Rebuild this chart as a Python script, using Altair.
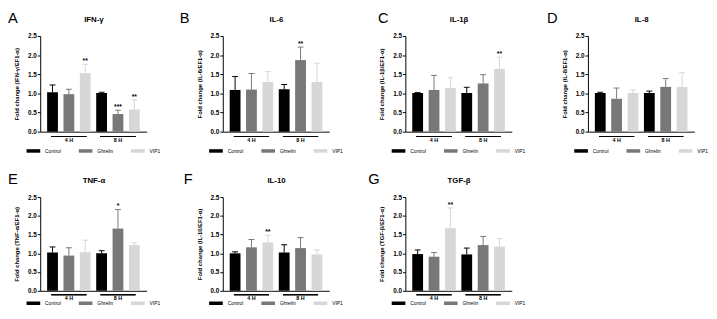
import altair as alt
import pandas as pd

FONT = "Liberation Sans, Arial, sans-serif"

names = ["IFN-γ", "IL-6", "IL-1β", "IL-8", "TNF-α", "IL-10", "TGF-β"]
letters = ["A", "B", "C", "D", "E", "F", "G"]
times = ["4 H", "4 H", "4 H", "8 H", "8 H", "8 H"]
treatments = ["Control", "Ghrelin", "VIP1"]
treatment_col = treatments * 2
colors = ["#000000", "#787878", "#d7d7d7"]

ifn_mean = [1.03, 0.98, 1.53, 1.01, 0.46, 0.58]
ifn_upper = [1.22, 1.11, 1.76, 1.03, 0.56, 0.83]
ifn_sig = ["", "", "**", "", "***", "**"]

il6_mean = [1.09, 1.10, 1.30, 1.11, 1.87, 1.30]
il6_upper = [1.44, 1.52, 1.57, 1.23, 2.21, 1.79]
il6_sig = ["", "", "", "", "**", ""]

il1b_mean = [1.01, 1.09, 1.14, 1.01, 1.26, 1.64]
il1b_upper = [1.02, 1.47, 1.41, 1.16, 1.49, 1.95]
il1b_sig = ["", "", "", "", "", "**"]

il8_mean = [1.01, 0.86, 1.01, 1.01, 1.17, 1.17]
il8_upper = [1.03, 1.14, 1.09, 1.06, 1.39, 1.54]
il8_sig = ["", "", "", "", "", ""]

tnf_mean = [1.02, 0.94, 1.03, 1.00, 1.66, 1.22]
tnf_upper = [1.17, 1.15, 1.35, 1.07, 2.17, 1.28]
tnf_sig = ["", "", "", "", "*", ""]

il10_mean = [1.00, 1.16, 1.29, 1.02, 1.14, 0.97]
il10_upper = [1.04, 1.37, 1.48, 1.23, 1.42, 1.09]
il10_sig = ["", "", "**", "", "", ""]

tgf_mean = [0.98, 0.91, 1.67, 0.97, 1.22, 1.18]
tgf_upper = [1.09, 1.02, 2.21, 1.14, 1.45, 1.39]
tgf_sig = ["", "", "**", "", "", ""]

means = [ifn_mean, il6_mean, il1b_mean, il8_mean, tnf_mean, il10_mean, tgf_mean]
uppers = [ifn_upper, il6_upper, il1b_upper, il8_upper, tnf_upper, il10_upper, tgf_upper]
sigs = [ifn_sig, il6_sig, il1b_sig, il8_sig, tnf_sig, il10_sig, tgf_sig]

letter_dx = [-33, -44, -28, -42, -33, -40, -38]
y_ticks = [0, 0.5, 1.0, 1.5, 2.0, 2.5]

W = 109
# per-row layout: (plot height, underline offset, x-label padding, legend offset)
ROW_TOP = (98, 5, 6, 17)
ROW_BOTTOM = (96, 4, 5, 10)


def y_axis(i):
    return alt.Axis(
        values=y_ticks, format=".1f",
        title=f"Fold change ({names[i]}/EF1-α)",
        titleFontSize=6, titleFontWeight="bold", titlePadding=8,
        titleFont=FONT, titleColor="black",
        labelFontSize=6.5, labelFontWeight="bold", labelPadding=1,
        labelFont=FONT, labelColor="black",
        tickSize=3, tickColor="black", domainColor="black",
        domainWidth=1, grid=False)


def panel(i):
    H, u_off, lab_pad, leg_off = ROW_TOP if i < 4 else ROW_BOTTOM
    df = pd.DataFrame({
        "time": times,
        "treatment": treatment_col,
        "mean": means[i],
        "upper": uppers[i],
        "sig": sigs[i],
    })
    xscale = alt.Scale(paddingInner=0, paddingOuter=0.084)
    xoff = alt.XOffset("treatment:N", sort=treatments,
                       scale=alt.Scale(paddingInner=0.34, paddingOuter=0.17))
    yscale = alt.Scale(domain=[0, 2.5], nice=False, zero=True)
    cscale = alt.Scale(domain=treatments, range=colors)
    yax = y_axis(i)

    base = alt.Chart(df)
    bars = base.mark_bar().encode(
        x=alt.X("time:N", scale=xscale, axis=alt.Axis(
            title=None, labelAngle=0, ticks=False, domain=True,
            domainColor="black", domainWidth=1, labelFontSize=5.5,
            labelFontWeight="bold", labelPadding=lab_pad, labelFont=FONT,
            labelColor="black")),
        xOffset=xoff,
        y=alt.Y("mean:Q", scale=yscale, axis=yax),
        color=alt.Color("treatment:N", sort=treatments, scale=cscale,
                        legend=alt.Legend(
                            orient="none", legendX=-9.5, legendY=H + leg_off,
                            direction="horizontal", columns=3,
                            gridAlign="each", title=None,
                            symbolType="M-2.8,-0.72L2.8,-0.72L2.8,0.72L-2.8,0.72Z",
                            symbolSize=25, symbolStrokeWidth=0,
                            symbolOpacity=1, labelFontSize=5,
                            labelFont=FONT, labelColor="black",
                            labelOffset=9.5, columnPadding=17.5, padding=0)),
    )
    c_nolegend = alt.Color("treatment:N", sort=treatments, scale=cscale,
                           legend=None)
    x_noaxis = alt.X("time:N", scale=xscale, axis=None)
    err = base.mark_rule(strokeWidth=1).encode(
        x=x_noaxis, xOffset=xoff,
        y=alt.Y("mean:Q", scale=yscale, axis=yax),
        y2="upper:Q",
        color=c_nolegend,
    )
    cap = base.mark_tick(orient="horizontal", size=6, thickness=1,
                         opacity=1).encode(
        x=x_noaxis, xOffset=xoff,
        y=alt.Y("upper:Q", scale=yscale, axis=yax),
        color=c_nolegend,
    )
    stars = base.mark_text(baseline="bottom", dy=0, fontSize=7,
                           fontWeight="bold", font=FONT,
                           color="black").encode(
        x=x_noaxis, xOffset=xoff,
        y=alt.Y("upper:Q", scale=yscale, axis=yax),
        text="sig:N",
    )
    under = base.mark_tick(orient="horizontal", size=36, thickness=1,
                           color="black", opacity=1).encode(
        x=alt.X("time:N", scale=xscale, axis=alt.Axis(
            orient="top", title=names[i], labels=False, ticks=False,
            domain=False, titleFontSize=8, titleFontWeight="bold",
            titlePadding=13, titleFont=FONT, titleColor="black")),
        y=alt.value(H + u_off),
    )
    return alt.layer(bars, err, cap, stars, under).resolve_axis(
        x="independent"
    ).properties(
        width=W, height=H,
        title=alt.TitleParams(letters[i], anchor="start", frame="group",
                              dx=letter_dx[i], offset=-11, fontSize=15,
                              fontWeight="normal", font=FONT,
                              color="black"),
    )


chart = alt.concat(
    *[panel(i) for i in range(7)],
    columns=4,
    spacing={"row": 67, "column": 78},
    bounds="flush",
).resolve_scale(color="independent").resolve_legend(
    color="independent"
).configure_view(stroke=None).properties(
    padding={"left": 0, "top": 0, "right": 0, "bottom": 0},
    background="white",
)

chart.save("out.html", embed_options={"renderer": "svg", "actions": False})
